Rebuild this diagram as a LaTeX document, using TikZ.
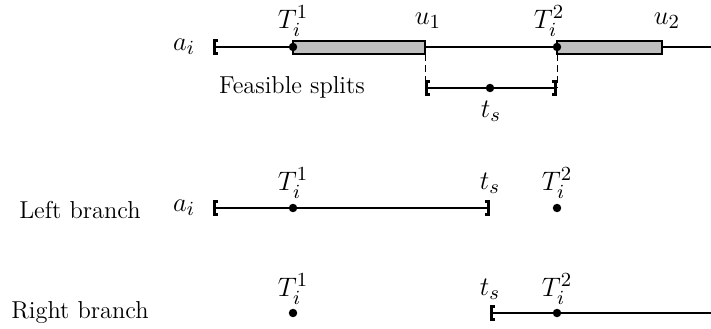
\documentclass[tikz,border=0pt]{standalone}
\usepackage{amsmath}
\usepackage{tikz}
\usetikzlibrary{arrows.meta, positioning}

\begin{document}
\begin{tikzpicture}[
  x=0.158mm, y=-0.158mm,
  brk/.style={line width=1.2pt, {Bracket[width=7pt,length=1.5pt]}-{Bracket[width=7pt,length=1.5pt]}},
  lbrk/.style={line width=1.2pt, {Bracket[width=7pt,length=1.5pt]}-},
  pt/.style={circle, fill=black, inner sep=0pt, minimum size=3.8pt},
  gbox/.style={draw=black, fill=gray!50, line width=1.2pt},
  dsh/.style={thin, dashed, dash pattern=on 3pt off 2pt},
  lab/.style={inner sep=0pt, font=\fontsize{13}{15}\selectfont}
]
\useasboundingbox (0,0) rectangle (711,329);
%% Top line: intervals
\coordinate (a1) at (213,47);
\coordinate (e1) at (711,47);
\draw[lbrk] (a1) -- (e1);
\draw[gbox] (293,41) rectangle (425,54);
\draw[gbox] (557,41) rectangle (662,54);
\node[pt] (T11) at (293,47) {};
\node[pt] (T12) at (557,47) {};
\coordinate (u1) at (425,47);
\coordinate (u2) at (662,47);
\node[lab] (la1) at (184,47) {$a_i$};
\node[lab] (lT11) at (293,21) {$T_i^1$};
\node[lab] (lT12) at (549,21) {$T_i^2$};
\node[lab] (lu1) at (428,21) {$u_1$};
\node[lab] (lu2) at (667,21) {$u_2$};
%% Feasible splits
\coordinate (f1) at (425,88);
\coordinate (f2) at (557,88);
\node[pt] (ts) at (490,88) {};
\draw[brk] (f1) -- (f2);
\draw[dsh] (u1) ++(0,7) -- (f1);
\draw[dsh] (T12) ++(0,7) -- (f2);
\node[lab] (lts) at (491,111) {$t_s$};
\node (feas) at (292,87) {\fontsize{11}{13}\selectfont Feasible splits};
%% Left branch
\node (left) at (80,210) {\fontsize{11}{13}\selectfont Left branch};
\node[lab] (la2) at (184,208) {$a_i$};
\coordinate (a2) at (213,208);
\coordinate (s2) at (490,208);
\draw[brk] (a2) -- (s2);
\node[pt] (T21) at (293,208) {};
\node[pt] (T22) at (557,208) {};
\node[lab] (lT21) at (293,183) {$T_i^1$};
\node[lab] (lT22) at (557,183) {$T_i^2$};
\node[lab] (lts2) at (490,183) {$t_s$};
%% Right branch
\node (right) at (80,313) {\fontsize{11}{13}\selectfont Right branch};
\coordinate (s3) at (490,313);
\coordinate (e3) at (711,313);
\draw[lbrk] (s3) -- (e3);
\node[pt] (T31) at (293,313) {};
\node[pt] (T32) at (557,313) {};
\node[lab] (lT31) at (293,289) {$T_i^1$};
\node[lab] (lT32) at (557,289) {$T_i^2$};
\node[lab] (lts3) at (490,289) {$t_s$};
\end{tikzpicture}
\end{document}
